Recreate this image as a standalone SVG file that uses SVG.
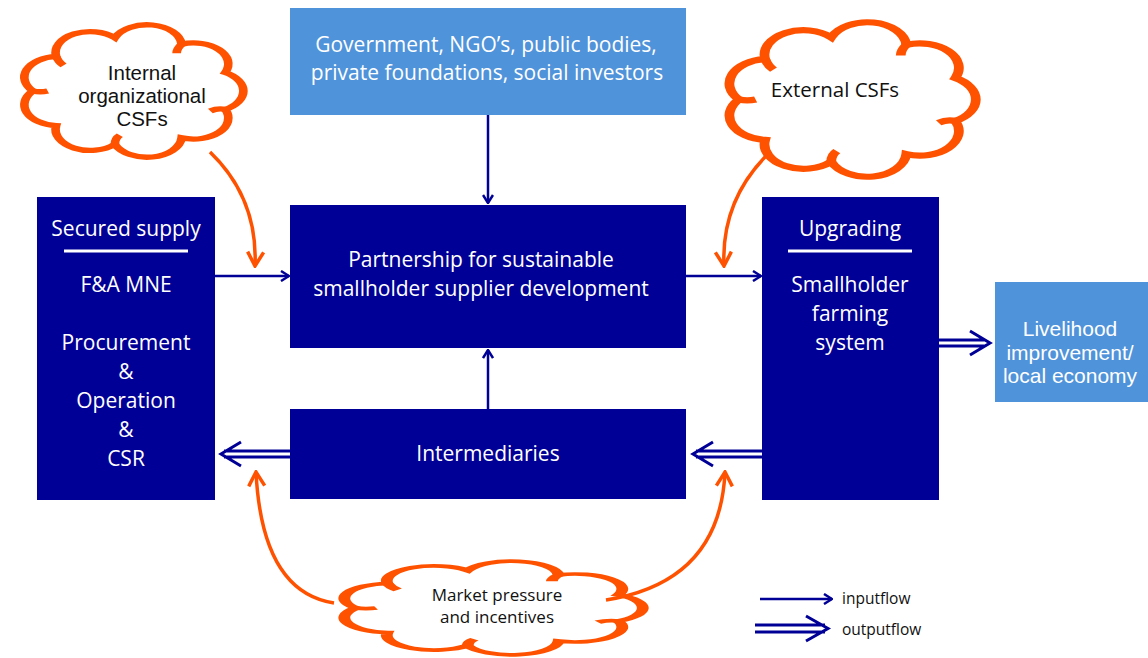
<svg xmlns="http://www.w3.org/2000/svg" width="1148" height="658" viewBox="0 0 1148 658">
<style>
.navy{fill:#000096}
.light{fill:#4F93DA}
.wt{fill:#ffffff;font-family:"Open Sans","Liberation Sans",Arial,sans-serif;font-size:21px;text-anchor:middle}
.wl{fill:#ffffff;font-family:"Liberation Sans",Arial,sans-serif;font-size:21px;text-anchor:middle}
.bt{fill:#111111;font-family:"Open Sans","Liberation Sans",Arial,sans-serif;text-anchor:middle}
.bl{fill:#111111;font-family:"Liberation Sans",Arial,sans-serif;font-size:20.5px;text-anchor:middle}
.lg{fill:#111111;font-family:"Open Sans","Liberation Sans",Arial,sans-serif;font-size:15.5px;text-anchor:start}
.cloud{fill:#ffffff;stroke:#FF5200;stroke-width:3.5;vector-effect:non-scaling-stroke}
.cin{fill:none;stroke:#FF5200;stroke-width:3.5;vector-effect:non-scaling-stroke}
.oarr{fill:none;stroke:#FF5200;stroke-width:3.5}
.nline{fill:none;stroke:#000096;stroke-width:2.5}
.dbl{fill:none;stroke:#000096;stroke-width:3}
.ul{stroke:#ffffff;stroke-width:3}
</style>
<defs>
<marker id="navyHead" viewBox="0 0 12 12" refX="11" refY="6" markerWidth="12" markerHeight="12" markerUnits="userSpaceOnUse" orient="auto">
<path d="M3,1 L11,6 L3,11" fill="none" stroke="#000096" stroke-width="2.5"/>
</marker>
<marker id="orangeHead" viewBox="0 0 20 20" refX="18" refY="10" markerWidth="20" markerHeight="20" markerUnits="userSpaceOnUse" orient="auto">
<path d="M4,2 L18,10 L4,18" fill="none" stroke="#FF5200" stroke-width="3.5"/>
</marker>
<path id="cloudShape" d="M10,50 A14,14 0 0 1 19.4,26.9 A14,14 0 0 1 43.1,14.5 A14,14 0 0 1 70,18.8 A14,14 0 0 1 87.6,37.7 A14,14 0 0 1 87.6,62.3 A14,14 0 0 1 70,81.2 A14,14 0 0 1 43.1,85.5 A14,14 0 0 1 19.4,73.1 A14,14 0 0 1 10,50 Z"/>
<path id="cloudInner" d="M19.4,26.9 q1,4 3,6 M70,18.8 q-2,3 -2,6 M87.6,62.3 q-3,-1 -6,1 M43.1,85.5 q0,-4 2,-6 M10,50 q3,1 6,0"/>
</defs>

<g id="cloud-internal">
<use href="#cloudShape" class="cloud" transform="translate(8,16) scale(2.48,1.5)"/>
<use href="#cloudInner" class="cin" transform="translate(8,16) scale(2.48,1.5)"/>
<text class="bl" x="142" y="80">Internal</text>
<text class="bl" x="142" y="103">organizational</text>
<text class="bl" x="142" y="126">CSFs</text>
</g>

<g id="cloud-external">
<use href="#cloudShape" class="cloud" transform="translate(711,12) scale(2.79,1.75)"/>
<use href="#cloudInner" class="cin" transform="translate(711,12) scale(2.79,1.75)"/>
<text class="bt" font-size="20.5" x="835" y="97">External CSFs</text>
</g>

<g id="cloud-market">
<use href="#cloudShape" class="cloud" transform="translate(322,555) scale(3.38,1.06)"/>
<use href="#cloudInner" class="cin" transform="translate(322,555) scale(3.38,1.06)"/>
<text class="bt" font-size="17" x="497" y="601">Market pressure</text>
<text class="bt" font-size="17" x="497" y="623">and incentives</text>
</g>

<g id="node-government">
<rect class="light" x="290" y="8" width="396" height="107"/>
<text class="wt" x="486" y="52">Government, NGO’s, public bodies,</text>
<text class="wt" x="487" y="80">private foundations, social investors</text>
</g>

<g id="node-partnership">
<rect class="navy" x="290" y="205" width="396" height="143"/>
<text class="wt" x="481" y="267">Partnership  for sustainable</text>
<text class="wt" x="481" y="296">smallholder supplier development</text>
</g>

<g id="node-intermediaries">
<rect class="navy" x="290" y="409" width="396" height="90"/>
<text class="wt" x="488" y="461">Intermediaries</text>
</g>

<g id="node-secured">
<rect class="navy" x="37" y="197" width="178" height="303"/>
<text class="wt" x="126" y="236">Secured supply</text>
<line class="ul" x1="64" y1="251" x2="188" y2="251"/>
<text class="wt" x="126" y="292">F&amp;A MNE</text>
<text class="wt" x="126" y="350">Procurement</text>
<text class="wt" x="126" y="379">&amp;</text>
<text class="wt" x="126" y="408">Operation</text>
<text class="wt" x="126" y="437">&amp;</text>
<text class="wt" x="126" y="466">CSR</text>
</g>

<g id="node-upgrading">
<rect class="navy" x="762" y="197" width="177" height="303"/>
<text class="wt" x="850" y="236">Upgrading</text>
<line class="ul" x1="788" y1="251" x2="912" y2="251"/>
<text class="wt" x="850" y="292">Smallholder</text>
<text class="wt" x="850" y="321">farming</text>
<text class="wt" x="850" y="350">system</text>
</g>

<g id="node-livelihood">
<rect class="light" x="995" y="282" width="153" height="120"/>
<text class="wl" x="1070" y="336">Livelihood</text>
<text class="wl" x="1070" y="359.5">improvement/</text>
<text class="wl" x="1070" y="383">local economy</text>
</g>

<g id="connectors">
<line class="nline" x1="488" y1="115" x2="488" y2="203" marker-end="url(#navyHead)"/>
<line class="nline" x1="488" y1="409" x2="488" y2="350" marker-end="url(#navyHead)"/>
<line class="nline" x1="215" y1="276" x2="289" y2="276" marker-end="url(#navyHead)"/>
<line class="nline" x1="686" y1="276" x2="761" y2="276" marker-end="url(#navyHead)"/>

<path class="dbl" d="M290,451 H224 M290,457 H224 M241,442 L221,454 L241,466"/>
<path class="dbl" d="M762,451 H696 M762,457 H696 M713,442 L693,454 L713,466"/>
<path class="dbl" d="M939,340 H985 M939,346 H985 M970,331 L990,343 L970,355"/>

<path class="oarr" d="M210,152 Q258,198 255,266" marker-end="url(#orangeHead)"/>
<path class="oarr" d="M769,153 Q721,200 724,266" marker-end="url(#orangeHead)"/>
<path class="oarr" d="M334,603 Q262,592 256,472" marker-end="url(#orangeHead)"/>
<path class="oarr" d="M606,600 Q720,582 725,472" marker-end="url(#orangeHead)"/>
</g>

<g id="legend">
<line class="nline" x1="760" y1="599" x2="832" y2="599" marker-end="url(#navyHead)"/>
<text class="lg" x="842" y="604">inputflow</text>
<path class="dbl" d="M755,625 H825 M755,632 H825 M806,616 L828,628.5 L806,641"/>
<text class="lg" x="842" y="635">outputflow</text>
</g>
</svg>
